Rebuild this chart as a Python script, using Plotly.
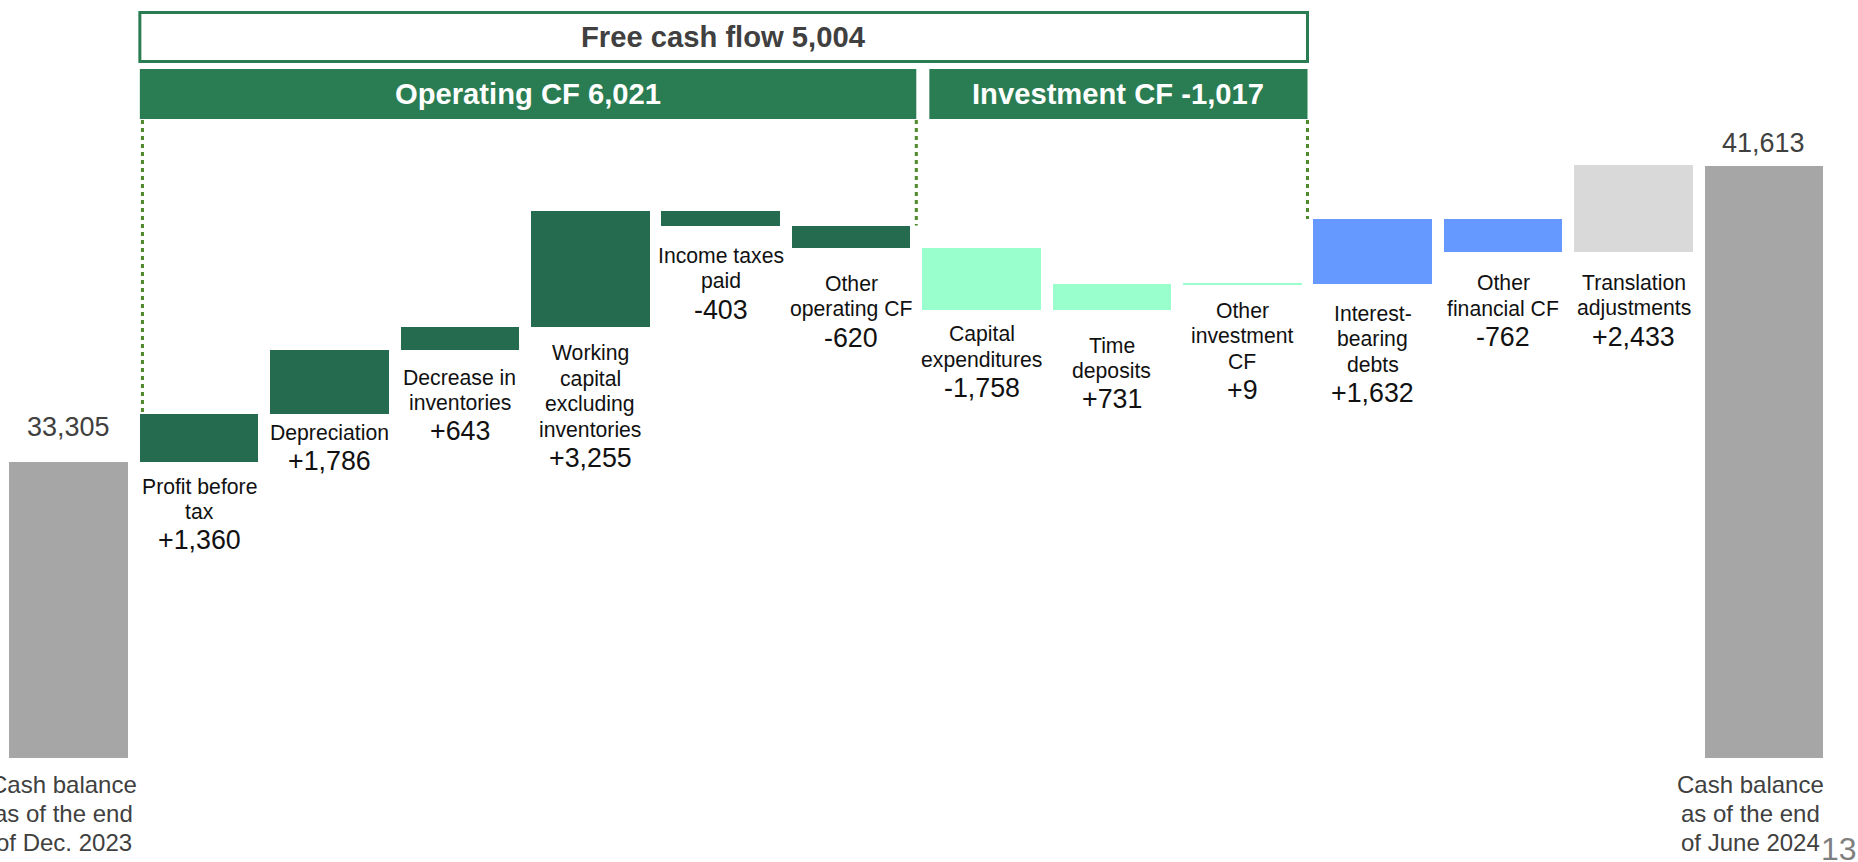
import numpy as np
import plotly.graph_objects as go

# ---------------- data ----------------
categories = [
    "Cash balance as of the end of Dec. 2023", "Profit before tax", "Depreciation",
    "Decrease in inventories", "Working capital excluding inventories", "Income taxes paid",
    "Other operating CF", "Capital expenditures", "Time deposits", "Other investment CF",
    "Interest-bearing debts", "Other financial CF", "Translation adjustments",
    "Cash balance as of the end of June 2024",
]
label_lines = [
    ["Cash balance", "as of the end", "of Dec. 2023"],
    ["Profit before", "tax"],
    ["Depreciation"],
    ["Decrease in", "inventories"],
    ["Working", "capital", "excluding", "inventories"],
    ["Income taxes", "paid"],
    ["Other", "operating CF"],
    ["Capital", "expenditures"],
    ["Time", "deposits"],
    ["Other", "investment", "CF"],
    ["Interest-", "bearing", "debts"],
    ["Other", "financial CF"],
    ["Translation", "adjustments"],
    ["Cash balance", "as of the end", "of June 2024"],
]
start_balance = 33305
# bar heights as drawn in the picture
changes = [1360, 1786, 643, 3255, -403, -620, -1758, 731, 9, 1820, -925, 2433]
# value labels as printed in the picture
value_labels = ["+1,360", "+1,786", "+643", "+3,255", "-403", "-620",
                "-1,758", "+731", "+9", "+1,632", "-762", "+2,433"]
end_balance = 41613
groups = ["balance"] + ["operating"] * 6 + ["investment"] * 3 + ["financial"] * 2 + ["fx", "balance"]
operating_cf = 6021
investment_cf = -1017
free_cf = 5004
page_number = "13"

# ---------------- style / layout ----------------
W, H = 1858, 862
MT, MB = 0, 104
PLOT_H = H - MT - MB
Y0 = 25000
VAL_PER_PX = 8308 / 296.0
Y1 = Y0 + PLOT_H * VAL_PER_PX
X_FIRST, X_STEP, BAR_PX = 68.7, 130.4, 118.5
BW = BAR_PX / X_STEP
XR = [-X_FIRST / X_STEP, (W - X_FIRST) / X_STEP]

colors = {
    "balance": "#A6A6A6",
    "operating": "#256B4F",
    "investment": "#99FFCC",
    "financial": "#6699FF",
    "fx": "#D9D9D9",
}
HEAD_GREEN = "#2A7D52"
DOT_GREEN = "#4F8A2B"
FONT = "Liberation Sans, Arial, sans-serif"

label_gap = [24, 19, 27, 26, 30, 36, 24, 35, 26, 30, 31, 31]
NAME_STEP, VALUE_STEP = 25.5, 28.5
NAME_SIZE, VALUE_SIZE = 21.2, 26.8
balance_lift = [35, 23]
balance_xshift = [-5, -13]


def pix_to_y(p):
    return Y0 + (PLOT_H - p) * VAL_PER_PX


# ---------------- derived waterfall ----------------
chg = np.array(changes)
cum_before = start_balance + np.concatenate([[0], np.cumsum(chg)[:-1]])
bases = [0] + list(cum_before) + [0]
heights = [start_balance] + list(chg) + [end_balance]
bar_colors = [colors[g] for g in groups]

fig = go.Figure()
fig.add_trace(go.Bar(
    x=list(range(len(categories))), y=heights, base=bases,
    width=BW, marker=dict(color=bar_colors, line=dict(width=0)),
    hovertext=categories, hoverinfo="text", showlegend=False,
))

ann = []
# change labels
for i, v in enumerate(changes):
    k = i + 1
    bottom = min(cum_before[i], cum_before[i] + v)
    lines = label_lines[k]
    for j, t in enumerate(lines):
        ann.append(dict(x=k, y=bottom, xref="x", yref="y", text=t, showarrow=False,
                        yanchor="middle", yshift=-(label_gap[i] + j * NAME_STEP),
                        font=dict(family=FONT, size=NAME_SIZE, color="#111111")))
    ann.append(dict(x=k, y=bottom, xref="x", yref="y", text=value_labels[i], showarrow=False,
                    yanchor="middle",
                    yshift=-(label_gap[i] + (len(lines) - 1) * NAME_STEP + VALUE_STEP),
                    font=dict(family=FONT, size=VALUE_SIZE, color="#111111")))

# balance labels
for n, (k, val) in enumerate([(0, start_balance), (len(categories) - 1, end_balance)]):
    ann.append(dict(x=k, y=val, xref="x", yref="y", text=f"{val:,}", showarrow=False,
                    yanchor="middle", yshift=balance_lift[n],
                    font=dict(family=FONT, size=27, color="#404040")))
    for j, t in enumerate(label_lines[k]):
        ann.append(dict(x=k, y=Y0, xref="x", yref="y", text=t, showarrow=False,
                        yanchor="middle", yshift=-(26 + j * 29), xshift=balance_xshift[n],
                        font=dict(family=FONT, size=24, color="#404040")))

# headers
op_x0 = 1 - BW / 2
split = 6.5
inv_x0 = 6.6
inv_x1 = 9.5
shapes = [
    dict(type="rect", xref="x", yref="y", x0=op_x0, x1=inv_x1,
         y0=pix_to_y(61.5), y1=pix_to_y(12.5), line=dict(color=HEAD_GREEN, width=3),
         fillcolor="white", layer="above"),
    dict(type="rect", xref="x", yref="y", x0=op_x0, x1=split,
         y0=pix_to_y(119), y1=pix_to_y(69), line=dict(width=0),
         fillcolor=HEAD_GREEN, layer="above"),
    dict(type="rect", xref="x", yref="y", x0=inv_x0, x1=inv_x1,
         y0=pix_to_y(119), y1=pix_to_y(69), line=dict(width=0),
         fillcolor=HEAD_GREEN, layer="above"),
]
# dotted connectors
dot_specs = [
    (op_x0 + 0.02, cum_before[0] + changes[0]),
    (split, cum_before[5]),
    (inv_x1, cum_before[9] + changes[9]),
]
for xx, ybot in dot_specs:
    shapes.append(dict(type="line", xref="x", yref="y", x0=xx, x1=xx,
                       y0=pix_to_y(120), y1=ybot,
                       line=dict(color=DOT_GREEN, width=3, dash="4px,4px"), layer="above"))

ann.append(dict(x=(op_x0 + inv_x1) / 2, y=pix_to_y(37), xref="x", yref="y",
                text=f"<b>Free cash flow {free_cf:,}</b>", showarrow=False, yanchor="middle",
                font=dict(family=FONT, size=29.2, color="#404040")))
ann.append(dict(x=(op_x0 + split) / 2, y=pix_to_y(94), xref="x", yref="y",
                text=f"<b>Operating CF {operating_cf:,}</b>", showarrow=False, yanchor="middle",
                font=dict(family=FONT, size=29.2, color="white")))
ann.append(dict(x=(inv_x0 + inv_x1) / 2, y=pix_to_y(94), xref="x", yref="y",
                text=f"<b>Investment CF {investment_cf:,}</b>", showarrow=False, yanchor="middle",
                font=dict(family=FONT, size=29.2, color="white")))
ann.append(dict(x=1819 / W, y=(PLOT_H - 829) / PLOT_H, xref="paper", yref="paper",
                text=page_number, showarrow=False, xanchor="left", yanchor="top",
                font=dict(family=FONT, size=32, color="#7F7F7F")))

fig.update_layout(
    width=W, height=H,
    margin=dict(l=0, r=0, t=MT, b=MB, pad=0),
    paper_bgcolor="white", plot_bgcolor="white",
    xaxis=dict(range=XR, visible=False, fixedrange=True),
    yaxis=dict(range=[Y0, Y1], visible=False, fixedrange=True),
    bargap=0, annotations=ann, shapes=shapes, showlegend=False,
)

fig.write_html("out.html", config={"displayModeBar": False},
               post_script="document.body.style.margin='0';document.body.style.overflow='hidden';")
